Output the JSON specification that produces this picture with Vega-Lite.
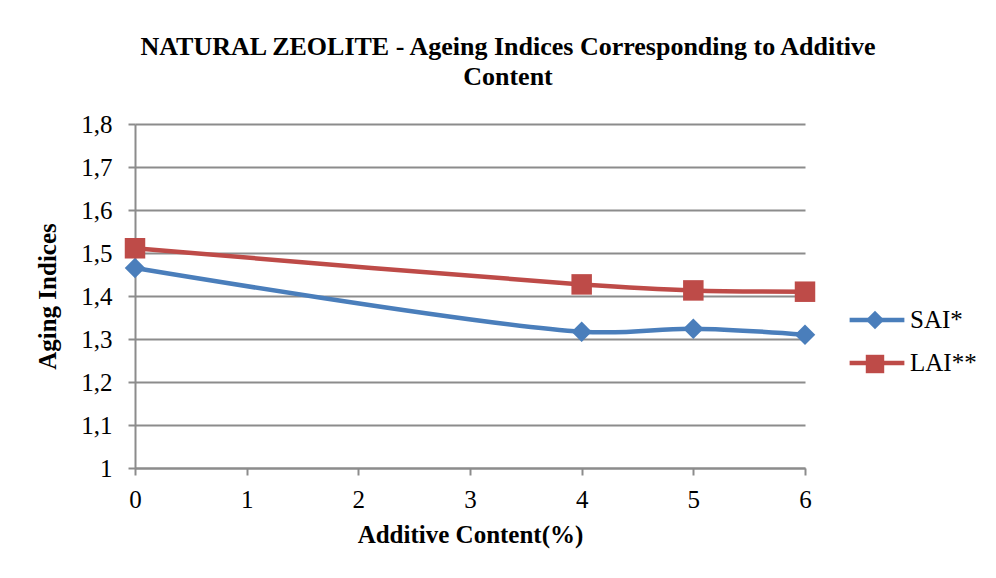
{
  "$schema": "https://vega.github.io/schema/vega-lite/v6.json",
  "width": 670,
  "height": 344,
  "autosize": {"type": "none"},
  "padding": {"left": 135, "top": 124, "right": 191, "bottom": 110},
  "background": "white",
  "title": {
    "text": ["NATURAL ZEOLITE - Ageing Indices Corresponding to Additive", "Content"],
    "font": "Times New Roman",
    "fontSize": 26,
    "fontWeight": "bold",
    "color": "black",
    "anchor": "middle",
    "frame": "group",
    "offset": 22,
    "lineHeight": 30,
    "dx": 38
  },
  "data": {
    "values": [
      {"content": 0, "index": 1.465, "series": "SAI*"},
      {"content": 4, "index": 1.317, "series": "SAI*"},
      {"content": 5, "index": 1.324, "series": "SAI*"},
      {"content": 6, "index": 1.31, "series": "SAI*"},
      {"content": 0, "index": 1.511, "series": "LAI**"},
      {"content": 4, "index": 1.427, "series": "LAI**"},
      {"content": 5, "index": 1.413, "series": "LAI**"},
      {"content": 6, "index": 1.41, "series": "LAI**"}
    ]
  },
  "encoding": {
    "x": {
      "field": "content",
      "type": "quantitative",
      "scale": {"domain": [0, 6], "nice": false},
      "axis": {
        "title": "Additive Content(%)",
        "values": [0, 1, 2, 3, 4, 5, 6],
        "grid": false,
        "labelFlush": false,
        "domainColor": "#8c8c8c",
        "domainWidth": 2,
        "tickColor": "#8c8c8c",
        "tickWidth": 2,
        "tickSize": 7,
        "labelPadding": 12,
        "titlePadding": 10
      }
    },
    "y": {
      "field": "index",
      "type": "quantitative",
      "scale": {"domain": [1, 1.8], "nice": false, "zero": false},
      "axis": {
        "title": "Aging Indices",
        "values": [1, 1.1, 1.2, 1.3, 1.4, 1.5, 1.6, 1.7, 1.8],
        "labelExpr": "replace(format(datum.value, '~g'), '.', ',')",
        "labelFlush": false,
        "grid": true,
        "gridColor": "#8c8c8c",
        "gridWidth": 2,
        "domainColor": "#8c8c8c",
        "domainWidth": 2,
        "tickColor": "#8c8c8c",
        "tickWidth": 2,
        "tickSize": 7,
        "labelPadding": 16,
        "titlePadding": 20
      }
    },
    "color": {
      "field": "series",
      "type": "nominal",
      "sort": ["SAI*", "LAI**"],
      "scale": {"domain": ["SAI*", "LAI**"], "range": ["#4a7ebb", "#be4b48"]}
    }
  },
  "layer": [
    {
      "mark": {"type": "line", "interpolate": "catmull-rom", "strokeWidth": 4.5},
      "encoding": {
        "color": {
          "field": "series",
          "type": "nominal",
          "sort": ["SAI*", "LAI**"],
          "scale": {"domain": ["SAI*", "LAI**"], "range": ["#4a7ebb", "#be4b48"]},
          "legend": {
            "title": null,
            "orient": "none",
            "legendX": 712,
            "legendY": 166,
            "symbolType": "stroke",
            "symbolSize": 3000,
            "symbolStrokeWidth": 4.5,
            "labelFontSize": 25,
            "labelFont": "Times New Roman",
            "labelColor": "black",
            "labelOffset": 3,
            "rowPadding": 0
          }
        }
      }
    },
    {
      "mark": {"type": "point", "filled": true, "opacity": 1, "size": 420},
      "encoding": {
        "shape": {
          "field": "series",
          "type": "nominal",
          "sort": ["SAI*", "LAI**"],
          "scale": {"domain": ["SAI*", "LAI**"], "range": ["diamond", "square"]},
          "legend": {
            "title": null,
            "orient": "none",
            "legendX": 730,
            "legendY": 186,
            "symbolSize": 340,
            "symbolOpacity": 1,
            "labelExpr": "''",
            "rowPadding": 18
          }
        },
        "color": {
          "field": "series",
          "type": "nominal",
          "sort": ["SAI*", "LAI**"],
          "scale": {"domain": ["SAI*", "LAI**"], "range": ["#4a7ebb", "#be4b48"]},
          "legend": {
            "title": null,
            "orient": "none",
            "legendX": 730,
            "legendY": 186,
            "symbolSize": 340,
            "symbolOpacity": 1,
            "labelExpr": "''",
            "rowPadding": 18
          }
        }
      }
    }
  ],
  "resolve": {"legend": {"color": "independent", "shape": "independent"}},
  "config": {
    "view": {"stroke": null},
    "font": "Times New Roman",
    "axis": {
      "labelFont": "Times New Roman",
      "labelFontSize": 25,
      "labelColor": "black",
      "titleFont": "Times New Roman",
      "titleFontSize": 25,
      "titleFontWeight": "bold",
      "titleColor": "black"
    },
    "legend": {"symbolOpacity": 1}
  }
}
